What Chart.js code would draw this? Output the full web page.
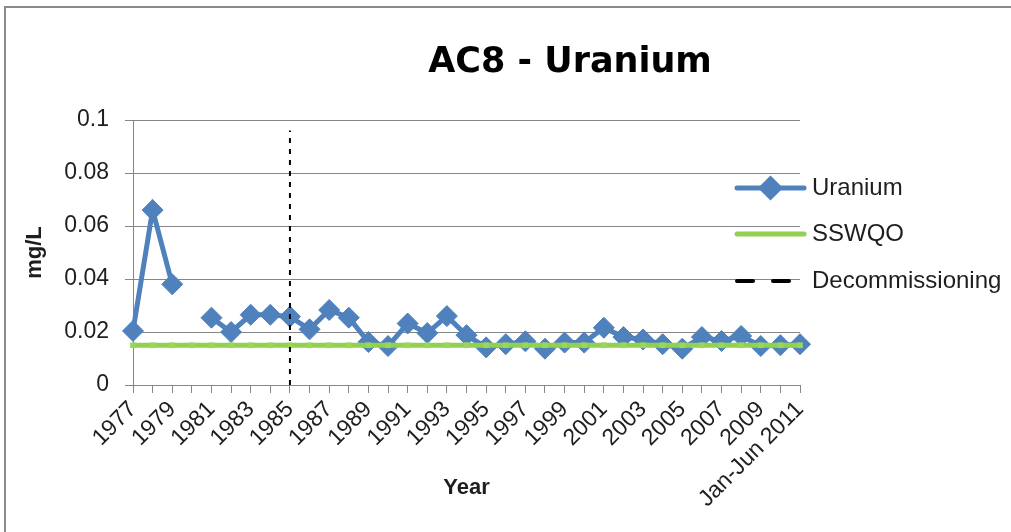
<!DOCTYPE html>
<html>
<head>
<meta charset="utf-8">
<script src="https://cdn.jsdelivr.net/npm/chart.js@4"></script>
<style>
  html, body { margin: 0; padding: 0; background: #fff; overflow: hidden; }
  #wrap { width: 1011px; height: 532px; position: relative; }
  canvas { display: block; }
</style>
</head>
<body>
<div id="wrap"><canvas id="chart" width="1011" height="532"></canvas></div>
<script>
// Sampling years (last entry is a half-year sample)
const years = ['1977','1978','1979','1980','1981','1982','1983','1984','1985','1986',
  '1987','1988','1989','1990','1991','1992','1993','1994','1995','1996','1997','1998',
  '1999','2000','2001','2002','2003','2004','2005','2006','2007','2008','2009','2010',
  'Jan-Jun 2011'];

// Uranium concentration, mg/L (no sample in 1980)
const uranium = [0.0204, 0.066, 0.038, null, 0.0254, 0.020, 0.0265, 0.0265, 0.0258, 0.021,
  0.0283, 0.0254, 0.0162, 0.0147, 0.0232, 0.0196, 0.026, 0.0188, 0.0142, 0.0154, 0.0165,
  0.0137, 0.016, 0.016, 0.0216, 0.0181, 0.0172, 0.0154, 0.0137, 0.0181, 0.0166, 0.0185,
  0.0147, 0.015, 0.0154];

// Surface water quality objective, mg/L
const sswqo = [0.015, 0.015, 0.015, 0.015, 0.015, 0.015, 0.015, 0.015, 0.015, 0.015,
  0.015, 0.015, 0.015, 0.015, 0.015, 0.015, 0.015, 0.015, 0.015, 0.015, 0.015, 0.015,
  0.015, 0.015, 0.015, 0.015, 0.015, 0.015, 0.015, 0.015, 0.015, 0.015, 0.015, 0.015,
  0.015];

// Decommissioning marker: year and vertical extent (mg/L)
const decomYear = '1985';
const decomSpan = [0, 0.096];

// Value axis labels
const yTickLabels = ['0', '0.02', '0.04', '0.06', '0.08', '0.1'];

const BLUE = '#4f81bd';
const GREEN = '#92d050';
const GRID = '#868686';
const TEXT = '#1e1e1e';
const FONT = "'Liberation Sans', Arial, sans-serif";

// White page with the grey frame edges along the top and left
const framePlugin = {
  id: 'frame',
  beforeDraw(chart) {
    const ctx = chart.ctx;
    ctx.save();
    ctx.fillStyle = '#fff';
    ctx.fillRect(0, 0, chart.width, chart.height);
    ctx.strokeStyle = '#8a8a8a';
    ctx.lineWidth = 2;
    ctx.beginPath();
    ctx.moveTo(5, chart.height);
    ctx.lineTo(5, 7);
    ctx.lineTo(chart.width, 7);
    ctx.stroke();
    ctx.restore();
  }
};

// Chart heading
const headingPlugin = {
  id: 'heading',
  afterDraw(chart) {
    const ctx = chart.ctx;
    ctx.save();
    ctx.fillStyle = '#000';
    ctx.font = "bold 35px 'DejaVu Sans', sans-serif";
    ctx.textAlign = 'center';
    ctx.textBaseline = 'alphabetic';
    ctx.fillText('AC8 - Uranium', 570, 72);
    ctx.restore();
  }
};

// Series key, overlapping the right edge of the plot
const keyPlugin = {
  id: 'seriesKey',
  afterDraw(chart) {
    const ctx = chart.ctx;
    const ds = chart.data.datasets;
    const x0 = chart.chartArea.right - 65;
    const x1 = chart.chartArea.right + 6;
    const rows = [188, 234, 281];
    ctx.save();
    ctx.lineCap = 'round';
    ds.forEach((d, i) => {
      const y = rows[i];
      ctx.strokeStyle = d.borderColor;
      if (i === 2) {
        ctx.lineWidth = 4;
        ctx.setLineDash([16, 20]);
      } else {
        ctx.lineWidth = 5;
        ctx.setLineDash([]);
      }
      ctx.beginPath();
      ctx.moveTo(x0 + 2, y);
      ctx.lineTo(x1 - 2, y);
      ctx.stroke();
      ctx.setLineDash([]);
      const cx = (x0 + x1) / 2;
      if (i === 0) {
        Chart.helpers.drawPoint(ctx, { pointStyle: 'rectRot', radius: 9, borderWidth: 1 }, cx, y);
        ctx.fillStyle = BLUE;
        ctx.fill();
      }
      ctx.fillStyle = TEXT;
      ctx.font = '24px ' + FONT;
      ctx.textAlign = 'left';
      ctx.textBaseline = 'middle';
      ctx.fillText(d.label, x1 + 6, y);
    });
    ctx.restore();
  }
};

new Chart(document.getElementById('chart'), {
  type: 'line',
  data: {
    labels: years,
    datasets: [
      {
        label: 'Uranium',
        data: uranium,
        borderColor: BLUE,
        backgroundColor: BLUE,
        borderWidth: 5,
        pointStyle: 'rectRot',
        pointRadius: 10.5,
        pointBackgroundColor: BLUE,
        pointBorderColor: BLUE,
        pointBorderWidth: 1,
        spanGaps: false,
        tension: 0,
        order: 2
      },
      {
        label: 'SSWQO',
        data: sswqo,
        borderColor: GREEN,
        backgroundColor: GREEN,
        borderWidth: 5,
        pointStyle: 'rect',
        pointRadius: 4,
        pointBackgroundColor: '#9ad65c',
        pointBorderColor: '#9ad65c',
        pointBorderWidth: 0,
        tension: 0,
        order: 1
      },
      {
        label: 'Decommissioning',
        data: [{ x: decomYear, y: decomSpan[0] }, { x: decomYear, y: decomSpan[1] }],
        borderColor: '#000',
        backgroundColor: '#000',
        borderWidth: 2,
        borderDash: [5, 6],
        pointRadius: 0,
        tension: 0,
        order: 0
      }
    ]
  },
  options: {
    responsive: false,
    animation: false,
    events: [],
    layout: { padding: { left: 8, right: 211, top: 120, bottom: 8 } },
    plugins: {
      legend: { display: false },
      title: { display: false },
      tooltip: { enabled: false }
    },
    scales: {
      x: {
        type: 'category',
        offset: false,
        afterFit(scale) { scale.height = 139; },
        grid: {
          drawOnChartArea: false,
          drawTicks: true,
          tickLength: 8,
          color: GRID,
          lineWidth: 1
        },
        border: { color: GRID, width: 1 },
        ticks: {
          autoSkip: false,
          maxRotation: 45,
          minRotation: 45,
          padding: 3,
          color: TEXT,
          font: { family: FONT, size: 23 },
          callback(value, index) { return index % 2 === 0 ? years[index] : ''; }
        },
        title: {
          display: true,
          text: 'Year',
          color: TEXT,
          font: { family: FONT, size: 22, weight: 'bold' },
          padding: { top: 0, bottom: 23 }
        }
      },
      y: {
        min: 0,
        max: 0.1,
        afterFit(scale) { scale.width = 125; },
        grid: {
          color: GRID,
          lineWidth: 1,
          drawTicks: true,
          tickLength: 8
        },
        border: { color: GRID, width: 1 },
        ticks: {
          stepSize: 0.02,
          padding: 16,
          color: TEXT,
          font: { family: FONT, size: 23 },
          callback(value, index) { return yTickLabels[index]; }
        },
        title: {
          display: true,
          text: 'mg/L',
          color: TEXT,
          font: { family: FONT, size: 22, weight: 'bold' },
          padding: { top: 14, bottom: 0 }
        }
      }
    }
  },
  plugins: [framePlugin, headingPlugin, keyPlugin]
});
</script>
</body>
</html>
